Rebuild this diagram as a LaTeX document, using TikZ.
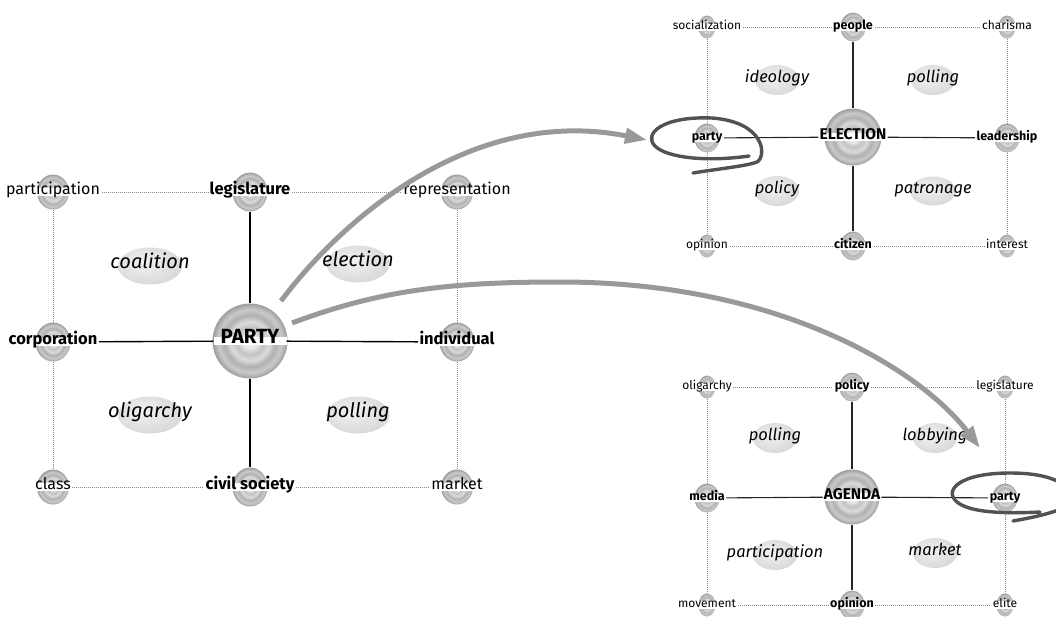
\documentclass[tikz,border=0pt]{standalone}
\usepackage{fontspec}
\setmainfont{Fira Sans}
\usetikzlibrary{shapes.geometric,arrows.meta}
\pgfdeclareradialshading{ripple}{\pgfpoint{0bp}{0bp}}{%
color(0bp)=(white);
color(5bp)=(white!90!black);
color(9bp)=(white!76!black);
color(13bp)=(white!86!black);
color(17bp)=(white!69!black);
color(21bp)=(white!79!black);
color(25bp)=(white!62!black);
color(29bp)=(white!71!black);
color(33bp)=(white!56!black);
color(37bp)=(white!64!black);
color(41bp)=(white!50!black);
color(45bp)=(white!57!black);
color(50bp)=(white!44!black);
color(100bp)=(white!44!black)}
\pgfdeclareradialshading{blobsh}{\pgfpoint{-5bp}{5bp}}{%
color(0bp)=(white!95!black);
color(20bp)=(white!88!black);
color(45bp)=(white!80!black);
color(100bp)=(white!80!black)}
\begin{document}
\begin{tikzpicture}[x=1pt,y=-1pt,
  sph/.style 2 args={ellipse, shading=ripple, minimum width=#1, minimum height=#2, inner sep=0pt},
  bigsph/.style={circle, shading=ripple, minimum size=#1, inner sep=0pt},
  blob/.style 2 args={ellipse, shading=blobsh, minimum width=#1, minimum height=#2, inner sep=0pt},
  band/.style={fill=white, inner xsep=1.5pt, inner ysep=0pt, text height=0.7em, text depth=0.18em},
  Lax/.style={band, font=\bfseries\fontsize{16.5}{18}\selectfont},
  Lco/.style={band, font=\fontsize{16}{18}\selectfont},
  Lit/.style={inner sep=0pt, text height=0.7em, text depth=0.18em, font=\itshape\fontsize{20}{22}\selectfont},
  Lctr/.style={band, inner xsep=0pt, minimum width=#1, font=\bfseries\fontsize{20.5}{22}\selectfont},
  Rax/.style={band, font=\bfseries\fontsize{12.5}{14}\selectfont},
  Rco/.style={band, font=\fontsize{12}{14}\selectfont},
  Rit/.style={inner sep=0pt, text height=0.7em, text depth=0.18em, font=\itshape\fontsize{16.5}{18}\selectfont},
  Rctr/.style={band, inner xsep=1pt, minimum width=#1, font=\bfseries\fontsize{15.5}{17}\selectfont},
  Lsolid/.style={draw=black, line width=1.4pt},
  Rsolid/.style={draw=black!85, line width=1.1pt},
  dots/.style={draw=black!45, line width=0.9pt, dash pattern=on 0.9pt off 1.1pt},
  bigarrow/.style={draw=gray!80, line width=5pt, -{Triangle[length=22pt,width=15pt]}},
  ring/.style={draw=black!68, line width=3.4pt, line cap=round, line join=round}
]
\useasboundingbox (0,0) rectangle (1056,616);

% ================= LEFT DIAGRAM =================
\node[blob={64}{37}] (lb1) at (150,266) {};
\node[blob={63}{37}] (lb2) at (358,264) {};
\node[blob={64}{37}] (lb3) at (150,415) {};
\node[blob={63}{37}] (lb4) at (358,415) {};
\node[Lit] (lb1t) at (150,266) {coalition};
\node[Lit] (lb2t) at (358,264) {election};
\node[Lit] (lb3t) at (150,415) {oligarchy};
\node[Lit] (lb4t) at (358,415) {polling};

\node[bigsph=75] (Ps) at (250,341) {};
\node[Lctr=73] (Pt) at (250,341) {PARTY};

\node[sph={35}{39}] (legS) at (250,192) {};
\node[Lax] (legT) at (250,192) {legislature};
\node[sph={35}{39}] (civS) at (250,487) {};
\node[Lax] (civT) at (250,487) {civil society};
\node[sph={35}{39}] (corS) at (53,342) {};
\node[Lax] (corT) at (53,342) {corporation};
\node[sph={35}{39}] (indS) at (457,342) {};
\node[Lax] (indT) at (457,342) {individual};

\node[sph={32}{35}] (parS) at (53,192) {};
\node[Lco] (parT) at (53,192) {participation};
\node[sph={32}{35}] (repS) at (457,192) {};
\node[Lco] (repT) at (457,192) {representation};
\node[sph={32}{35}] (claS) at (53,487) {};
\node[Lco] (claT) at (53,487) {class};
\node[sph={32}{35}] (marS) at (457,487) {};
\node[Lco] (marT) at (457,487) {market};

\draw[Lsolid] (legS) -- (Ps);
\draw[Lsolid] (Ps) -- (civS);
\draw[Lsolid] (corT) -- (Pt);
\draw[Lsolid] (Pt) -- (indT);
\draw[dots] (parT) -- (legT);
\draw[dots] (legT) -- (repT);
\draw[dots] (claT) -- (civT);
\draw[dots] (civT) -- (marT);
\draw[dots] (parS) -- (corS);
\draw[dots] (corS) -- (claS);
\draw[dots] (repS) -- (indS);
\draw[dots] (indS) -- (marS);

% ================= TOP RIGHT DIAGRAM =================
\node[blob={44}{30}] (tb1) at (777,80) {};
\node[blob={44}{30}] (tb2) at (933,80) {};
\node[blob={44}{30}] (tb3) at (777,191) {};
\node[blob={46}{29}] (tb4) at (933,191) {};
\node[Rit] (tb1t) at (777,80) {ideology};
\node[Rit] (tb2t) at (933,80) {polling};
\node[Rit] (tb3t) at (777,191) {policy};
\node[Rit] (tb4t) at (933,191) {patronage};

\node[bigsph=57] (Es) at (853,137) {};
\node[Rctr=55] (Et) at (853,137) {ELECTION};

\node[sph={25}{29}] (peoS) at (853,27) {};
\node[Rax] (peoT) at (853,27) {people};
\node[sph={25}{29}] (citS) at (853,246) {};
\node[Rax] (citT) at (853,246) {citizen};
\node[sph={25}{29}] (ptyS) at (707,138) {};
\node[Rax] (ptyT) at (707,138) {party};
\node[sph={25}{29}] (leaS) at (1007,138) {};
\node[Rax] (leaT) at (1007,138) {leadership};

\node[sph={17}{23}] (socS) at (707,27) {};
\node[Rco] (socT) at (707,27) {socialization};
\node[sph={17}{23}] (chaS) at (1007,27) {};
\node[Rco] (chaT) at (1007,27) {charisma};
\node[sph={17}{23}] (opiS) at (707,246) {};
\node[Rco] (opiT) at (707,246) {opinion};
\node[sph={17}{23}] (intS) at (1007,246) {};
\node[Rco] (intT) at (1007,246) {interest};

\draw[Rsolid] (peoS) -- (Es);
\draw[Rsolid] (Es) -- (citS);
\draw[Rsolid] (ptyT) -- (Et);
\draw[Rsolid] (Et) -- (leaT);
\draw[dots] (socT) -- (peoT);
\draw[dots] (peoT) -- (chaT);
\draw[dots] (opiT) -- (citT);
\draw[dots] (citT) -- (intT);
\draw[dots] (socS) -- (ptyS);
\draw[dots] (ptyS) -- (opiS);
\draw[dots] (chaS) -- (leaS);
\draw[dots] (leaS) -- (intS);

% ================= BOTTOM RIGHT DIAGRAM =================
\node[blob={44}{30}] (bb1) at (775,438) {};
\node[blob={44}{30}] (bb2) at (935,438) {};
\node[blob={44}{30}] (bb3) at (775,555) {};
\node[blob={44}{30}] (bb4) at (935,553) {};
\node[Rit] (bb1t) at (775,438) {polling};
\node[Rit] (bb2t) at (935,438) {lobbying};
\node[Rit] (bb3t) at (775,555) {participation};
\node[Rit] (bb4t) at (935,553) {market};

\node[bigsph=55] (As) at (852,497) {};
\node[Rctr=53] (At) at (852,497) {AGENDA};

\node[sph={25}{29}] (polS) at (852,387) {};
\node[Rax] (polT) at (852,387) {policy};
\node[sph={25}{29}] (opnS) at (852,605) {};
\node[Rax] (opnT) at (852,605) {opinion};
\node[sph={25}{29}] (medS) at (707,498) {};
\node[Rax] (medT) at (707,498) {media};
\node[sph={25}{29}] (prtS) at (1005,498) {};
\node[Rax] (prtT) at (1005,498) {party};

\node[sph={17}{23}] (oliS) at (707,387) {};
\node[Rco] (oliT) at (707,387) {oligarchy};
\node[sph={17}{23}] (lgsS) at (1005,387) {};
\node[Rco] (lgsT) at (1005,387) {legislature};
\node[sph={17}{23}] (movS) at (707,605) {};
\node[Rco] (movT) at (707,605) {movement};
\node[sph={17}{23}] (eliS) at (1005,605) {};
\node[Rco] (eliT) at (1005,605) {elite};

\draw[Rsolid] (polS) -- (As);
\draw[Rsolid] (As) -- (opnS);
\draw[Rsolid] (medT) -- (At);
\draw[Rsolid] (At) -- (prtT);
\draw[dots] (oliT) -- (polT);
\draw[dots] (polT) -- (lgsT);
\draw[dots] (movT) -- (opnT);
\draw[dots] (opnT) -- (eliT);
\draw[dots] (oliS) -- (medS);
\draw[dots] (medS) -- (movS);
\draw[dots] (lgsS) -- (prtS);
\draw[dots] (prtS) -- (eliS);

% ================= RINGS =================
\begin{scope}[shift={(707,138)}]
  \draw[ring] (-14,35) .. controls (10,31) and (40,28) .. (50,24)
     .. controls (60,18) and (58,-16) .. (5,-20)
     .. controls (-45,-22) and (-64,-4) .. (-52,8)
     .. controls (-40,20) and (0,24) .. (42,18);
\end{scope}
\begin{scope}[shift={(1005,498)}]
  \draw[ring] (8,23) .. controls (25,20) and (50,15) .. (62,8)
     .. controls (72,-5) and (60,-25) .. (5,-25)
     .. controls (-45,-25) and (-62,-8) .. (-48,4)
     .. controls (-36,14) and (-5,16) .. (35,14);
\end{scope}

% ================= ARROWS =================
\coordinate (a1s) at (281,301);
\coordinate (a1e) at (647,140);
\coordinate (a2s) at (292,323);
\coordinate (a2m) at (560,282);
\coordinate (a2e) at (980,448);
\draw[bigarrow] (a1s) .. controls (340,222) and (470,105) .. (a1e);
\draw[bigarrow] (a2s) .. controls (380,290) and (450,282) .. (a2m)
   .. controls (780,282) and (920,370) .. (a2e);
\end{tikzpicture}
\end{document}
